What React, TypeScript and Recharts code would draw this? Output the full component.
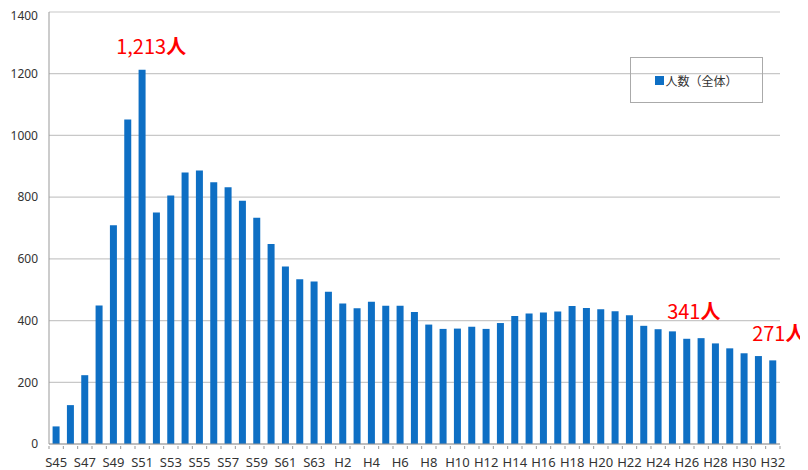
import { BarChart, Bar, XAxis, YAxis, CartesianGrid, Legend, ReferenceDot } from 'recharts';

const years = [
  'S45', 'S46', 'S47', 'S48', 'S49', 'S50', 'S51', 'S52', 'S53', 'S54',
  'S55', 'S56', 'S57', 'S58', 'S59', 'S60', 'S61', 'S62', 'S63',
  'H1', 'H2', 'H3', 'H4', 'H5', 'H6', 'H7', 'H8', 'H9', 'H10',
  'H11', 'H12', 'H13', 'H14', 'H15', 'H16', 'H17', 'H18', 'H19', 'H20',
  'H21', 'H22', 'H23', 'H24', 'H25', 'H26', 'H27', 'H28', 'H29', 'H30',
  'H31', 'H32',
];

const counts = [
  57, 126, 223, 449, 709, 1052, 1213, 750, 805, 880,
  886, 848, 832, 788, 733, 648, 575, 534, 527,
  493, 455, 440, 461, 448, 448, 428, 387, 373, 374,
  380, 373, 392, 415, 423, 426, 429, 447, 441, 437,
  430, 417, 383, 372, 365, 341, 343, 326, 310, 294,
  285, 271,
];

const yTicks = [0, 200, 400, 600, 800, 1000, 1200, 1400];

const callouts = [
  { year: 'S51', value: 1213, text: '1,213', dx: 9, dy: -16 },
  { year: 'H26', value: 341, text: '341', dx: 7, dy: -20 },
  { year: 'H32', value: 271, text: '271', dx: 6, dy: -19 },
];

const seriesName = '人数（全体）';

const data = years.map((y, i) => ({ year: y, count: counts[i] }));

const BLUE = '#0E6FC4';
const W = 800;
const H = 462;
const M = { top: 4, right: 28, bottom: 0, left: 0 };
const Y_W = 41;
const band = (W - M.left - M.right - Y_W) / years.length;

function XTick(props: any) {
  const { x, y, index, payload } = props;
  return (
    <g>
      <line x1={x - band / 2} x2={x - band / 2} y1={y} y2={y + 3} stroke="#999" />
      {index === years.length - 1 && (
        <line x1={x + band / 2} x2={x + band / 2} y1={y} y2={y + 3} stroke="#999" />
      )}
      {index % 2 === 0 && (
        <text
          x={x}
          y={y + 21}
          textAnchor="middle"
          fontSize={13}
          fontFamily="'Liberation Sans Narrow', 'Noto Sans', sans-serif"
          fill="#333"
        >
          {payload.value}
        </text>
      )}
    </g>
  );
}

function CalloutLabel(props: any) {
  const { viewBox, text, dx, dy } = props;
  const cx = viewBox.x + (viewBox.width || 0) / 2;
  const cy = viewBox.y + (viewBox.height || 0) / 2;
  return (
    <text
      x={cx + dx}
      y={cy + dy}
      textAnchor="middle"
      fontSize={20}
      fontFamily="'Noto Sans CJK JP', 'Noto Sans', sans-serif"
      fill="#FF0000"
    >
      {text}
      <tspan fontWeight={700}>人</tspan>
    </text>
  );
}

function LegendBox() {
  return (
    <div
      style={{
        width: 133,
        height: 46,
        boxSizing: 'border-box',
        border: '1px solid #AAAAAA',
        display: 'flex',
        alignItems: 'center',
        justifyContent: 'center',
        fontFamily: "'Noto Sans CJK JP', sans-serif",
        fontSize: 12,
        color: '#333',
      }}
    >
      <span style={{ display: 'inline-block', width: 9, height: 9, background: BLUE, marginRight: 1 }} />
      {seriesName}
    </div>
  );
}

export default function App() {
  return (
    <div style={{ width: W, height: H }}>
      <BarChart width={W} height={H} data={data} margin={M} barCategoryGap="25%">
        <CartesianGrid vertical={false} stroke="#C8C8C8" strokeWidth={1.2} />
        <XAxis
          dataKey="year"
          interval={0}
          height={26}
          tick={<XTick />}
          tickLine={false}
          tickSize={0}
          axisLine={{ stroke: '#999' }}
        />
        <YAxis
          domain={[0, 1400]}
          ticks={yTicks}
          width={Y_W}
          tickLine={false}
          tickSize={6}
          tickMargin={5}
          axisLine={{ stroke: '#999' }}
          tick={{ fontSize: 12, fill: '#333', fontFamily: "'Noto Sans', sans-serif" }}
        />
        <Legend
          layout="horizontal"
          verticalAlign="middle"
          align="center"
          content={<LegendBox />}
          wrapperStyle={{ left: 622, top: 49, width: 133, height: 46 }}
        />
        <Bar dataKey="count" name={seriesName} fill={BLUE} isAnimationActive={false} />
        {callouts.map((c) => (
          <ReferenceDot
            key={c.year}
            x={c.year}
            y={c.value}
            r={1}
            fill="none"
            stroke="none"
            label={<CalloutLabel text={c.text} dx={c.dx} dy={c.dy} />}
          />
        ))}
      </BarChart>
    </div>
  );
}
